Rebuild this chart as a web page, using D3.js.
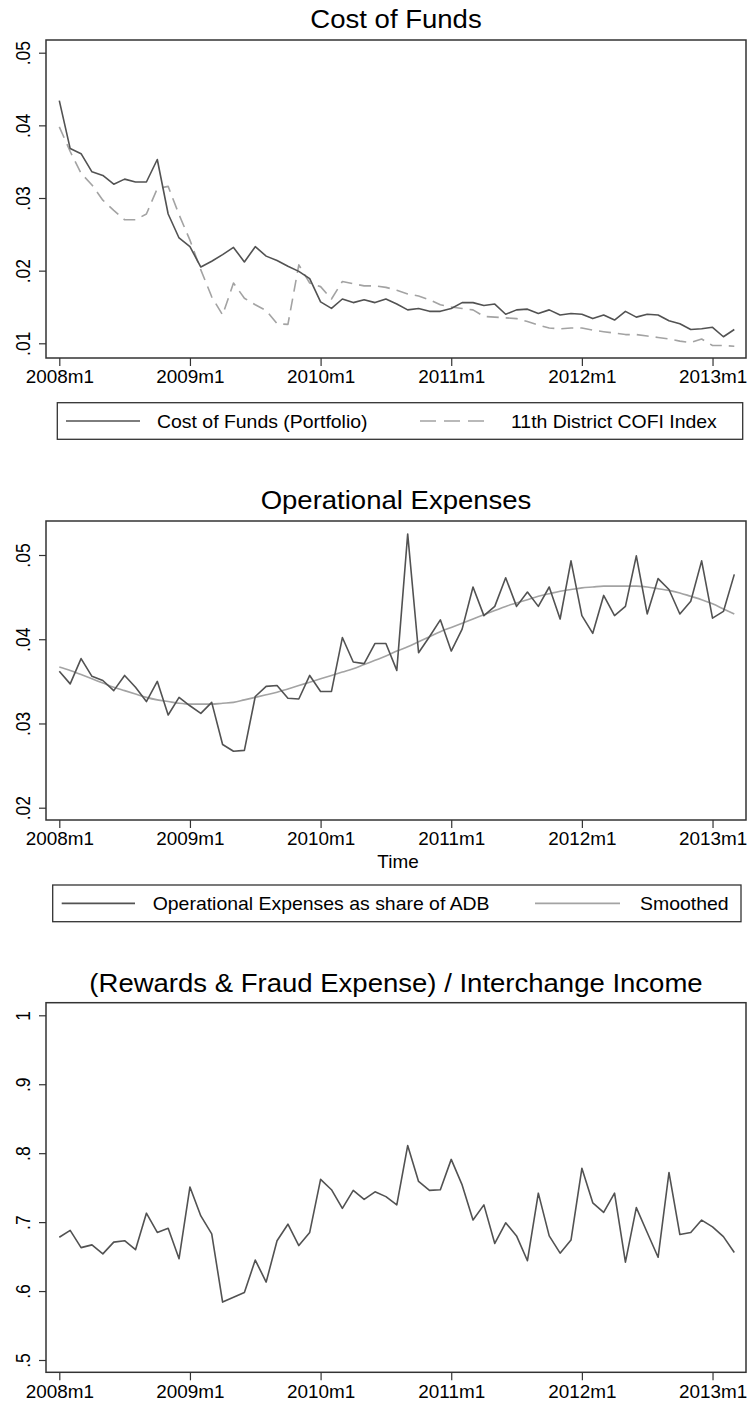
<!DOCTYPE html>
<html>
<head>
<meta charset="utf-8">
<script src="https://cdn.jsdelivr.net/npm/d3@7"></script>
<style>
body {margin:0; background:#fff;}
text {font-family: 'Liberation Sans', Arial, Helvetica, sans-serif; fill:#000;}
</style>
</head>
<body>
<script>
// monthly periods 2008m1 .. 2013m3
var months = [];
for (var yr = 2008; yr <= 2013; yr++) for (var m = 1; m <= 12; m++) months.push(yr + 'm' + m);
months = months.slice(0, 63);
var xTicks = ['2008m1','2009m1','2010m1','2011m1','2012m1','2013m1'];

var costPortfolio = [.0434,.0368,.0361,.0336,.0331,.0319,.0326,.0322,.0322,.0353,.0278,.0245,
  .0233,.0205,.0213,.0222,.0232,.0212,.0233,.0220,.0214,.0206,.0199,.0189,
  .0157,.0148,.0161,.0156,.0160,.0156,.0161,.0154,.0146,.0148,.0144,.0144,
  .0148,.0156,.0156,.0152,.0154,.0140,.0146,.0147,.0141,.0146,.0139,.0141,
  .0140,.0134,.0139,.0132,.0144,.0136,.0140,.0139,.0131,.0127,.0119,.0120,
  .0122,.0109,.0119];
var cofiIndex = [.0398,.0364,.0334,.0318,.0297,.0283,.0270,.0270,.0278,.0313,.0316,.0277,
  .0242,.0201,.0164,.0139,.0183,.0162,.0153,.0145,.0127,.0126,.0208,.0183,
  .0178,.0161,.0185,.0182,.0179,.0179,.0177,.0173,.0168,.0165,.0160,.0153,
  .0150,.0148,.0146,.0137,.0136,.0135,.0134,.0130,.0125,.0121,.0120,.0121,
  .0121,.0118,.0116,.0114,.0112,.0112,.0110,.0108,.0106,.0103,.0101,.0106,
  .0097,.0097,.0096];
var opexShare = [.0362,.0347,.0377,.0356,.0351,.0339,.0357,.0343,.0326,.0350,.0310,.0331,
  .0321,.0312,.0325,.0275,.0267,.0268,.0332,.0344,.0345,.0330,.0329,.0357,
  .0338,.0338,.0402,.0373,.0371,.0395,.0395,.0363,.0525,.0384,.0403,.0423,
  .0386,.0412,.0462,.0428,.0439,.0473,.0439,.0456,.0439,.0462,.0424,.0493,
  .0428,.0407,.0452,.0428,.0439,.0499,.0430,.0472,.0459,.0430,.0445,.0493,
  .0425,.0433,.0477];
var opexSmoothed = [.0367,.0363,.0358,.0353,.0348,.0343,.0339,.0335,.0331,.0328,.0326,.0324,
  .0323,.0323,.0323,.0324,.0325,.0328,.0331,.0334,.0337,.0341,.0345,.0349,
  .0353,.0357,.0361,.0365,.0370,.0375,.0380,.0386,.0391,.0397,.0403,.0409,
  .0414,.0419,.0424,.0429,.0434,.0439,.0443,.0447,.0451,.0454,.0457,.0459,
  .0461,.0462,.0463,.0463,.0463,.0463,.0462,.0460,.0458,.0455,.0451,.0447,
  .0442,.0436,.0430];
var rewardsFraud = [.678,.688,.663,.667,.654,.671,.673,.660,.713,.685,.691,.647,
  .751,.709,.683,.584,.591,.598,.645,.613,.673,.697,.666,.685,
  .762,.747,.720,.746,.733,.744,.737,.725,.811,.759,.746,.747,
  .791,.754,.703,.725,.669,.699,.680,.644,.742,.680,.655,.674,
  .778,.728,.714,.742,.642,.721,.685,.649,.772,.682,.685,.703,
  .693,.679,.656];

var yTicksCost = [.01,.02,.03,.04,.05];
var yTicksOpex = [.02,.03,.04,.05];
var yTicksRewards = [.5,.6,.7,.8,.9,1];

var darkLine = '#525252', lightLine = '#a3a3a3', frameCol = '#333333';
var stretch = 'scale(1.08,1)';

var svg = d3.select('body').append('svg')
  .attr('width', 748)
  .attr('height', 1403);

var x = d3.scalePoint().domain(months).range([59.3, 734.3]);
var frameL = 46, frameR = 746;

function stataNum(d) { return String(d).replace(/^0\./, '.'); }

function drawPanel(p) {
  var y = d3.scaleLinear().domain(p.yDomain).range(p.yRange);

  // title
  svg.append('text')
    .attr('transform', 'translate(396,' + p.titleY + ') ' + stretch)
    .attr('text-anchor', 'middle')
    .style('font-size', '25.5px')
    .text(p.title);

  // frame
  svg.append('rect')
    .attr('x', frameL).attr('y', p.top)
    .attr('width', frameR - frameL).attr('height', p.bottom - p.top)
    .attr('fill', 'none').attr('stroke', frameCol).attr('stroke-width', 1.5);

  // y axis with rotated labels
  var ya = svg.append('g')
    .attr('transform', 'translate(' + frameL + ',0)')
    .call(d3.axisLeft(y).tickValues(p.yTicks).tickSize(7).tickFormat(stataNum));
  ya.select('.domain').remove();
  ya.attr('font-family', null).attr('font-size', null);
  ya.selectAll('line').attr('stroke', frameCol).attr('stroke-width', 1.2);
  ya.selectAll('text')
    .attr('x', 0).attr('dy', 0)
    .attr('transform', 'translate(-16,0) rotate(-90) scale(1,1.14)')
    .attr('text-anchor', 'middle')
    .style('font-size', '17.5px');

  // x axis
  var xa = svg.append('g')
    .attr('transform', 'translate(0,' + p.bottom + ')')
    .call(d3.axisBottom(x).tickValues(xTicks).tickSize(8).tickPadding(5));
  xa.select('.domain').remove();
  xa.attr('font-family', null).attr('font-size', null);
  xa.selectAll('line').attr('stroke', frameCol).attr('stroke-width', 1.2);
  xa.selectAll('text')
    .attr('transform', stretch)
    .style('font-size', '17.5px');

  // series
  p.series.forEach(function(s) {
    svg.append('path')
      .datum(s.values)
      .attr('fill', 'none')
      .attr('stroke', s.color)
      .attr('stroke-width', 1.6)
      .attr('stroke-dasharray', s.dash || null)
      .attr('stroke-linejoin', 'round')
      .attr('d', d3.line()
        .x(function(d, i) { return x(months[i]); })
        .y(function(d) { return y(d); })
        .curve(s.smooth ? d3.curveMonotoneX : d3.curveLinear));
  });
}

function drawLegend(box, items) {
  svg.append('rect')
    .attr('x', box.x1).attr('y', box.y1)
    .attr('width', box.x2 - box.x1).attr('height', box.y2 - box.y1)
    .attr('fill', 'none').attr('stroke', frameCol).attr('stroke-width', 1.3);
  var cy = (box.y1 + box.y2) / 2;
  items.forEach(function(it) {
    svg.append('line')
      .attr('x1', it.l1).attr('x2', it.l2).attr('y1', cy).attr('y2', cy)
      .attr('stroke', it.color).attr('stroke-width', 1.6)
      .attr('stroke-dasharray', it.dash || null);
    svg.append('text')
      .attr('transform', 'translate(' + it.tx + ',' + (cy + 6.5) + ') ' + stretch)
      .style('font-size', '18px')
      .text(it.label);
  });
}

// Cost of Funds
drawPanel({
  title: 'Cost of Funds', titleY: 28,
  top: 40, bottom: 358,
  yDomain: [.01, .05], yRange: [343.3, 52.7], yTicks: yTicksCost,
  series: [
    {values: cofiIndex, color: lightLine, dash: '12,7'},
    {values: costPortfolio, color: darkLine}
  ]
});
drawLegend({x1: 57.3, x2: 742.7, y1: 402.7, y2: 439.3}, [
  {l1: 66, l2: 140, tx: 157, color: darkLine, label: 'Cost of Funds (Portfolio)'},
  {l1: 420, l2: 491, tx: 511, color: lightLine, dash: '16,8', label: '11th District COFI Index'}
]);

// Operational Expenses
drawPanel({
  title: 'Operational Expenses', titleY: 509,
  top: 521, bottom: 820,
  yDomain: [.02, .05], yRange: [807.7, 555], yTicks: yTicksOpex,
  series: [
    {values: opexSmoothed, color: lightLine, smooth: true},
    {values: opexShare, color: darkLine}
  ]
});
svg.append('text')
  .attr('transform', 'translate(398,868) ' + stretch)
  .attr('text-anchor', 'middle')
  .style('font-size', '17.5px')
  .text('Time');
drawLegend({x1: 52.7, x2: 741, y1: 885, y2: 921.7}, [
  {l1: 61.7, l2: 135, tx: 152.7, color: darkLine, label: 'Operational Expenses as share of ADB'},
  {l1: 535, l2: 620, tx: 640, color: lightLine, label: 'Smoothed'}
]);

// Rewards & Fraud / Interchange
drawPanel({
  title: '(Rewards & Fraud Expense) / Interchange Income', titleY: 992,
  top: 1002.7, bottom: 1372.3,
  yDomain: [.5, 1], yRange: [1360, 1015.3], yTicks: yTicksRewards,
  series: [
    {values: rewardsFraud, color: darkLine}
  ]
});
</script>
</body>
</html>
